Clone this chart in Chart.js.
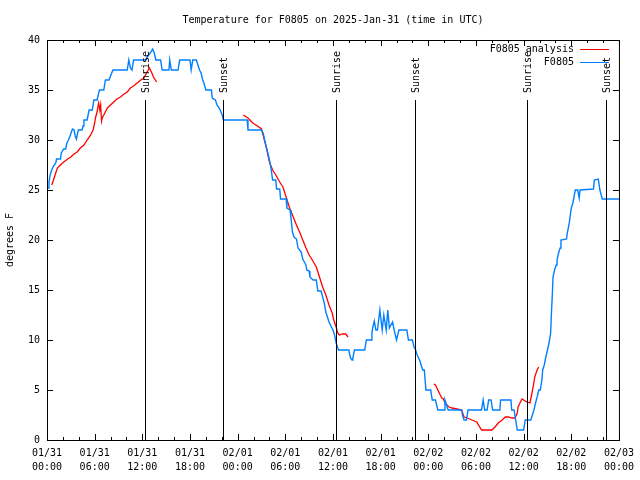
<!DOCTYPE html>
<html>
<head>
<meta charset="utf-8">
<script src="https://cdn.jsdelivr.net/npm/chart.js@4.4.1/dist/chart.umd.min.js"></script>
<style>
  html, body { margin: 0; padding: 0; background: #fff; }
</style>
</head>
<body>
<canvas id="chart" width="640" height="480"></canvas>
<script>
const chartTitle = 'Temperature for F0805 on 2025-Jan-31 (time in UTC)';
const yAxisTitle = 'degrees F';

// x values are hours since 2025-01-31 00:00 UTC
const xTickHours = [0, 6, 12, 18, 24, 30, 36, 42, 48, 54, 60, 66, 72];
const xTickDays = ['01/31', '01/31', '01/31', '01/31', '02/01', '02/01', '02/01', '02/01', '02/02', '02/02', '02/02', '02/02', '02/03'];
const xTickTimes = ['00:00', '06:00', '12:00', '18:00', '00:00', '06:00', '12:00', '18:00', '00:00', '06:00', '12:00', '18:00', '00:00'];
const yTicks = [0, 5, 10, 15, 20, 25, 30, 35, 40];

const eventHours = [12.37, 22.16, 36.44, 46.27, 60.42, 70.32];
const eventLabels = ['Sunrise', 'Sunset', 'Sunrise', 'Sunset', 'Sunrise', 'Sunset'];

// analysis series, null temps split it into pieces
const analysisLabel = 'F0805 analysis';
const analysisHours = [
  0.6, 0.9, 1.1, 1.3, 1.7, 2.1, 2.6, 3.0, 3.4, 3.8, 4.2, 4.65, 5.05, 5.5, 5.8, 6.0, 6.1, 6.3, 6.5, 6.65, 6.75, 6.87, 6.95,
  7.15, 7.6, 8.0, 8.4, 8.8, 9.25, 9.7, 10.1, 10.5, 10.9, 11.35, 11.8, 12.2, 12.4, 12.6, 12.9, 13.2, 13.4, 13.8,
  20,
  24.7, 25.3, 25.9, 26.5, 27.0, 27.2, 27.6, 28.0, 28.4, 28.8, 29.3, 29.7, 30.1, 30.5, 30.9, 31.4, 31.8, 32.2, 32.6,
  33.0, 33.4, 33.9, 34.3, 34.7, 35.1, 35.5, 35.9, 36.1, 36.4, 36.6, 36.8, 37.2, 37.6, 37.9,
  44,
  48.7, 48.9, 49.2, 49.5, 49.7, 49.9, 50.1, 50.6, 51.0, 51.6, 52.2, 52.5, 52.9, 53.5, 54.1, 54.7, 56.0, 56.4, 56.8,
  57.3, 57.7, 58.1, 58.5, 58.9, 59.2, 59.3, 59.6, 59.8, 60.0, 60.4, 60.8, 61.0, 61.2, 61.4, 61.7, 61.9
];
const analysisTemps = [
  25.5, 26.2, 26.7, 27.2, 27.5, 27.8, 28.1, 28.3, 28.6, 28.8, 29.2, 29.5, 30, 30.5, 31, 31.7, 32.2, 32.8, 33.7, 33, 33.5, 31.9, 32.2,
  32.5, 33.2, 33.5, 33.8, 34.1, 34.3, 34.6, 34.8, 35.2, 35.4, 35.7, 36, 36.2, 36.5, 36.8, 37.2, 36.7, 36.3, 35.8,
  null,
  32.5, 32.2, 31.7, 31.4, 31.1, 30.5, 29.3, 27.8, 27, 26.5, 25.8, 25.3, 24.3, 23.3, 22.5, 21.5, 20.8, 20, 19.2,
  18.5, 18, 17.3, 16.3, 15.3, 14.5, 13.5, 12.7, 12, 11.3, 10.7, 10.5, 10.6, 10.6, 10.3,
  null,
  5.6, 5.5, 5, 4.5, 4.2, 4.1, 3.7, 3.3, 3.2, 3.1, 3, 2.3, 2.2, 2, 1.8, 1, 1, 1.3, 1.7,
  2, 2.3, 2.3, 2.2, 2.2, 2.7, 3.3, 3.8, 4.1, 4.0, 3.8, 3.7, 4.5, 5.3, 6.3, 7, 7.3
];

// station observations
const obsLabel = 'F0805';
const obsHours = [
  0.0, 0.15, 0.25, 0.4, 0.55, 0.75, 1.1, 1.2, 1.7, 1.8, 2.1, 2.35, 2.5, 2.7, 2.9, 3.2, 3.4, 3.55, 3.7, 3.8, 3.95, 4.4,
  4.55, 4.65, 5.05, 5.3, 5.7, 5.9, 6.3, 6.6, 7.15, 7.35, 7.8, 8.3, 10.1, 10.3, 10.5, 10.7, 10.9, 12.4, 12.8, 13.0,
  13.3, 13.5, 13.7, 14.3, 14.5, 15.35, 15.45, 15.65, 16.5, 16.7, 18.0, 18.15, 18.35, 18.8, 19.0, 19.2, 19.4, 19.6,
  19.75, 20.0, 20.7, 20.8, 21.2, 21.4, 21.6, 21.8, 22.1, 22.2, 25.2, 25.3, 27.0, 27.2, 27.4, 27.6, 27.8, 28.0, 28.2,
  28.4, 28.8, 28.9, 29.3, 29.4, 30.1, 30.2, 30.6, 30.7, 30.9, 31.1, 31.4, 31.6, 32.0, 32.2, 32.4, 32.6, 32.7, 33.0,
  33.1, 33.5, 33.9, 34.1, 34.5, 34.7, 34.9, 35.1, 35.3, 35.5, 35.8, 36.0, 36.2, 36.4, 36.6, 36.7, 38.0, 38.2, 38.4,
  38.5, 38.7, 40.0, 40.1, 40.2, 40.8, 40.9, 41.0, 41.2, 41.4, 41.6, 41.9, 42.2, 42.4, 42.7, 42.9, 43.1, 43.5, 43.7,
  44.0, 44.3, 45.3, 45.5, 46.0, 46.2, 46.4, 46.6, 46.9, 47.3, 47.5, 47.7, 48.3, 48.5, 48.9, 49.2, 50.0, 50.1, 50.3,
  50.5, 52.2, 52.3, 52.5, 52.8, 53.0, 54.7, 54.9, 55.1, 55.4, 55.6, 55.9, 56.1, 57.0, 57.1, 58.4, 58.5, 58.8, 59.0,
  59.2, 60.0, 60.2, 60.9, 61.1, 61.3, 61.5, 61.7, 61.9, 62.1, 62.3, 62.4, 62.6, 62.8, 63.0, 63.2, 63.4, 63.5, 63.6,
  63.7, 63.9, 64.1, 64.2, 64.4, 64.6, 64.7, 65.4, 65.5, 65.7, 65.8, 66.0, 66.2, 66.5, 66.8, 67.0, 67.1, 68.8, 68.9,
  69.4, 69.6, 69.9, 72.0
];
const obsTemps = [
  25.2, 25.2, 25.8, 26.5, 26.9, 27.3, 27.7, 28.1, 28.1, 28.7, 29.1, 29.1, 29.7, 30, 30.4, 31.1, 31, 30.4, 30.1, 30.5, 31, 31,
  31.4, 32, 32, 33, 33, 34, 34, 35, 35, 36, 36, 37, 37, 38, 37.2, 37, 38, 38, 38.5, 38.7,
  39.1, 38.7, 38, 38, 37, 37, 38, 37, 37, 38, 38, 37, 38, 38, 37.5, 37, 36.7, 36,
  35.7, 35, 35, 34.2, 34, 33.5, 33.3, 33, 32.4, 32, 32, 31, 31, 30.7, 30, 29.3, 28.7, 28, 27.2,
  26, 26, 25.1, 25.1, 24.1, 24.1, 23.2, 23, 22.3, 20.8, 20.3, 20.1, 19.2, 18.8, 18.1, 17.8, 17.5, 17, 16.9,
  16.3, 16, 16, 14.9, 14.9, 14.3, 13.7, 12.8, 12.3, 11.8, 11.3, 11, 10.5, 9.7, 9.2, 9, 9, 8.2, 8,
  8.2, 9, 9, 9.5, 10, 10, 10.7, 11.2, 11.9, 11, 11, 13, 11, 12.5, 11, 13, 11.2, 11.8, 11,
  10, 11, 11, 10, 10, 9.3, 9, 8.5, 8, 7, 7, 5, 5, 4, 4, 3, 3, 4, 3.5,
  3, 3, 2.5, 2, 2, 3, 3, 4, 3, 3, 4, 4, 3, 3, 4, 4, 3, 3, 2,
  1, 1, 2, 2, 2.5, 3, 3.7, 4.3, 5, 5, 6, 7, 7.5, 8.3, 9, 9.7, 10.7, 12.7, 14.3,
  16.3, 17, 17.5, 18, 18.7, 19.2, 20, 20.1, 20.7, 21.5, 22, 23.2, 23.7, 25, 25, 24.2, 25, 25.1, 26,
  26.1, 25, 24.1, 24.1
];

const analysisColor = '#ff0000';
const obsColor = '#0080ff';
const fontFamily = '"DejaVu Sans Mono", "Liberation Mono", monospace';

const toPoints = (xs, ys) => xs.map((x, i) => ({x: x, y: ys[i]}));

// gnuplot look: boxed plot area, inward ticks, title over the plot, legend inside
const gnuplotFrame = {
    id: 'gnuplotFrame',
    afterDraw(chart) {
        const {ctx, chartArea: a, scales} = chart;
        const xs = scales.x;
        const ys = scales.y;
        ctx.save();
        ctx.strokeStyle = '#000';
        ctx.lineWidth = 1;
        ctx.strokeRect(a.left + 0.5, a.top + 0.5, a.right - a.left, a.bottom - a.top);

        ctx.beginPath();
        ys.ticks.forEach(t => {
            const y = Math.round(ys.getPixelForValue(t.value)) + 0.5;
            ctx.moveTo(a.left, y); ctx.lineTo(a.left + 6, y);
            ctx.moveTo(a.right, y); ctx.lineTo(a.right - 6, y);
        });
        for (let h = 0; h <= 72; h += 2) {
            const x = Math.round(xs.getPixelForValue(h)) + 0.5;
            const len = h % 6 === 0 ? 6 : 3;
            ctx.moveTo(x, a.bottom); ctx.lineTo(x, a.bottom - len);
            ctx.moveTo(x, a.top); ctx.lineTo(x, a.top + len);
        }
        ctx.stroke();

        // sunrise / sunset markers
        ctx.font = '10px ' + fontFamily;
        ctx.fillStyle = '#000';
        const topY = ys.getPixelForValue(34);
        eventHours.forEach((h, i) => {
            const x = Math.round(xs.getPixelForValue(h)) + 0.5;
            ctx.beginPath();
            ctx.moveTo(x, topY); ctx.lineTo(x, a.bottom);
            ctx.stroke();
            ctx.save();
            ctx.translate(x, topY - 7);
            ctx.rotate(-Math.PI / 2);
            ctx.textAlign = 'left';
            ctx.textBaseline = 'middle';
            ctx.fillText(eventLabels[i], 0, 1);
            ctx.restore();
        });

        // title centred over the plot area
        ctx.textAlign = 'center';
        ctx.textBaseline = 'middle';
        ctx.fillText(chartTitle, (a.left + a.right) / 2, 20);

        // legend, text right aligned with line sample to its right
        ctx.textAlign = 'right';
        chart.data.datasets.forEach((ds, i) => {
            const y = a.top + 9 + i * 13;
            ctx.fillStyle = '#000';
            ctx.fillText(ds.label, a.right - 45, y);
            ctx.strokeStyle = ds.borderColor;
            ctx.beginPath();
            ctx.moveTo(a.right - 39, y + 0.5); ctx.lineTo(a.right - 10, y + 0.5);
            ctx.stroke();
        });
        ctx.restore();
    }
};

new Chart(document.getElementById('chart'), {
    type: 'line',
    data: {
        datasets: [
            {
                label: analysisLabel,
                data: toPoints(analysisHours, analysisTemps),
                borderColor: analysisColor,
                borderWidth: 1.3,
                pointRadius: 0,
                spanGaps: false,
                order: 1
            },
            {
                label: obsLabel,
                data: toPoints(obsHours, obsTemps),
                borderColor: obsColor,
                borderWidth: 1.4,
                pointRadius: 0,
                order: 0
            }
        ]
    },
    options: {
        responsive: false,
        animation: false,
        layout: {padding: {top: 40, right: 18, left: 0, bottom: 0}},
        plugins: {
            legend: {display: false},
            title: {display: false},
            tooltip: {enabled: false}
        },
        scales: {
            x: {
                type: 'linear',
                min: 0,
                max: 72,
                afterBuildTicks: (scale) => {
                    scale.ticks = xTickHours.map(v => ({value: v}));
                },
                afterFit: (scale) => { scale.height = 40; },
                grid: {display: false, drawTicks: false},
                border: {display: false},
                ticks: {
                    autoSkip: false,
                    maxRotation: 0,
                    padding: 6,
                    color: '#000',
                    font: {family: fontFamily, size: 10, lineHeight: 1.4},
                    callback: (value) => {
                        const i = xTickHours.indexOf(value);
                        return i < 0 ? '' : [xTickDays[i], xTickTimes[i]];
                    }
                }
            },
            y: {
                min: 0,
                max: 40,
                afterBuildTicks: (scale) => {
                    scale.ticks = yTicks.map(v => ({value: v}));
                },
                afterFit: (scale) => { scale.width = 47; },
                grid: {display: false, drawTicks: false},
                border: {display: false},
                title: {
                    display: true,
                    text: yAxisTitle,
                    color: '#000',
                    font: {family: fontFamily, size: 10},
                    padding: {top: 4, bottom: 0}
                },
                ticks: {
                    padding: 7,
                    color: '#000',
                    font: {family: fontFamily, size: 10}
                }
            }
        }
    },
    plugins: [gnuplotFrame]
});
</script>
</body>
</html>
